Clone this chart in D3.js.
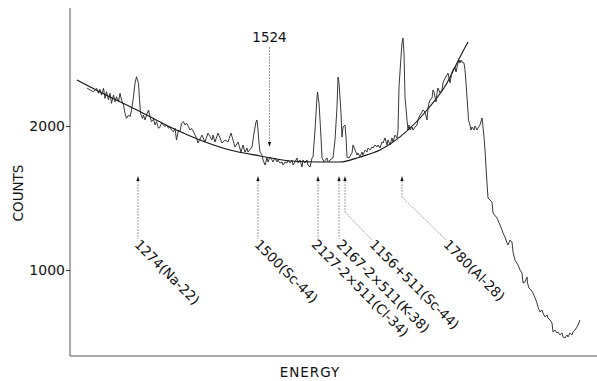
<!DOCTYPE html>
<html><head><meta charset="utf-8">
<script src="https://cdn.jsdelivr.net/npm/d3@7"></script>
<style>body{margin:0;background:#fff}svg{display:block}text{font-family:"DejaVu Sans",sans-serif;fill:#111}</style>
</head><body>
<script>
// spectrum: channel numbers and counts
const spectrumChannel = [34,40,47,53,57,60,63,67,70,73,77,80,83,87,90,93,97,100,103,107,110,113,117,120,123,127,130,133,137,139,141,145,147,150,153,157,160,163,167,170,173,177,180,183,187,190,193,197,200,203,207,210,213,217,220,223,227,230,233,237,240,243,247,250,253,256,264,270,276,284,286,290,296,300,304,310,316,322,326,330,336,342,346,350,354,356,364,368,372,374,376,378,380,384,386,390,394,396,400,404,406,410,414,416,420,424,426,430,434,436,440,444,446,450,454,456,460,464,466,470,474,476,480,484,486,490,494,495,498,502,504,508,514,516,520,526,530,534,536,538,542,544,546,550,552,554,558,564,566,570,574,576,580,584,586,590,594,596,600,604,606,610,614,616,620,624,626,630,634,636,640,644,646,650,654,656,658,662,664,666,668,670,674,676,678,680,684,686,690,694,696,700,704,706,710,714,716,718,720,724,726,728,732,734,736,740,744,746,750,754,756,760,762,764,768,770,772,776,778,780,782,784,788,790,792,794,796,797,800,802,804,808,810,814,816,820,824,826,828,830,832,834,836,844,846,854,860,864,866,870,874,876,880,884,886,890,896,900,904,906,910,914,915,918,922,926,930,934,936,940,944,946,950,954,956,960,964,966,970,974,976,980,984,986,990,994,996,1000,1004,1006,1010,1014,1016,1020];
const spectrumCounts = [2264,2250,2238,2262,2227,2255,2215,2262,2192,2238,2181,2227,2158,2215,2169,2203,2169,2227,2181,2146,2088,2053,2076,2065,2111,2203,2297,2342,2297,2181,2088,2053,2076,2042,2076,2111,2065,2030,2047,2007,2030,1984,1995,2019,2007,1995,2007,1984,1995,1972,1960,1984,1903,1972,1960,2019,2030,2007,2019,1995,1972,1984,1960,1937,1915,1882,1937,1889,1951,1903,1937,1889,1951,1917,1882,1903,1889,1951,1903,1854,1889,1819,1868,1819,1847,1819,1854,1951,2028,2042,1972,1882,1819,1799,1764,1729,1778,1750,1785,1764,1750,1778,1750,1764,1743,1750,1729,1750,1743,1764,1743,1764,1729,1750,1778,1743,1764,1715,1764,1743,1764,1729,1715,1778,1785,1972,2201,2236,2160,1924,1778,1750,1778,1750,1764,1778,1903,2132,2340,2299,2090,1924,1993,2007,1924,1785,1778,1813,1868,1833,1799,1813,1785,1819,1799,1833,1819,1847,1833,1854,1847,1868,1854,1868,1847,1889,1882,1917,1868,1903,1868,1917,1889,1937,1917,1972,2271,2479,2576,2611,2507,2201,2042,1972,2007,1972,1993,1972,1993,2007,2042,2076,2097,2111,2097,2042,2125,2160,2181,2194,2250,2236,2167,2229,2264,2229,2250,2299,2333,2354,2368,2299,2340,2375,2403,2410,2375,2437,2458,2437,2458,2444,2437,2389,2299,2201,2097,2042,2007,1972,1993,1972,2000,1972,1986,2007,2056,1993,1924,1833,1715,1604,1500,1472,1396,1361,1312,1278,1257,1229,1188,1174,1208,1194,1125,1069,1035,1000,979,910,917,951,910,875,861,840,806,771,743,708,722,701,674,688,667,653,632,569,583,563,569,549,563,535,528,549,535,563,549,569,583,604,618,653];
// smooth background fit
const fitChannel = [14,60,134,200,260,320,380,440,500,540,580,620,660,714,754,780,796];
const fitCounts = [2319,2236,2111,1993,1903,1833,1792,1757,1750,1750,1785,1833,1924,2111,2299,2479,2583];
// identified peaks
const peakChannel = [136,376,496,538,550,664];
const peakLabels = ["1274(Na-22)","1500(Sc-44)","2127-2×511(Cl-34)","2167-2×511(K-38)","1156+511(Sc-44)","1780(Al-28)"];
const markChannel = [399];
const markLabels = ["1524"];
const yTicks = [1000, 2000];
const xTitle = "ENERGY", yTitle = "COUNTS";

const W = 597, H = 381;
const svg = d3.select("body").append("svg").attr("width", W).attr("height", H);
const x = d3.scaleLinear().domain([0, 1054]).range([70, 597]);
const y = d3.scaleLinear().domain([1000, 2000]).range([270, 126]);
const plotTop = 8, plotBottom = 356;

// axes
svg.append("line").attr("x1",70).attr("x2",70).attr("y1",plotTop).attr("y2",plotBottom)
  .attr("stroke","#555").attr("stroke-width",1);
svg.append("line").attr("x1",70).attr("x2",597).attr("y1",plotBottom).attr("y2",plotBottom)
  .attr("stroke","#555").attr("stroke-width",1);
const yAxis = d3.axisLeft(y).tickValues(yTicks).tickSize(4).tickPadding(1).tickFormat(d3.format("d"));
const ya = svg.append("g").attr("transform","translate(70,0)").call(yAxis);
ya.select(".domain").remove();
ya.selectAll("line").attr("stroke","#333");
ya.selectAll("text").style("font-family","DejaVu Sans").style("font-size","14px").attr("fill","#111");

svg.append("text").attr("transform","translate(23,193) rotate(-90)").attr("text-anchor","middle")
  .style("font-size","13.5px").text(yTitle);
svg.append("text").attr("x",310).attr("y",377).attr("text-anchor","middle")
  .style("font-size","13.5px").style("letter-spacing","1px").text(xTitle);

// fit
const fitData = fitChannel.map((c,i)=>[c, fitCounts[i]]);
svg.append("path").datum(fitData)
  .attr("d", d3.line().x(d=>x(d[0])).y(d=>y(d[1])).curve(d3.curveMonotoneX))
  .attr("fill","none").attr("stroke","#111").attr("stroke-width",1.1);
// spectrum
const spec = spectrumChannel.map((c,i)=>[c, spectrumCounts[i]]);
svg.append("path").datum(spec)
  .attr("d", d3.line().x(d=>x(d[0])).y(d=>y(d[1])))
  .attr("fill","none").attr("stroke","#222").attr("stroke-width",0.9).attr("stroke-linejoin","round");

// peak markers (layout of leader lines)
const arrowTip = 176, labelY = 244;
const leaderBend = [null,null,null,null,212,197];
const labelShift = [1,1,-2,2,29,46];
peakChannel.forEach((c,i)=>{
  const px = x(c);
  svg.append("path").attr("d",`M${px},${arrowTip} L${px-1.6},${arrowTip+5} L${px+1.6},${arrowTip+5} Z`).attr("fill","#111");
  const lx = px + labelShift[i];
  let d;
  if (leaderBend[i]) d = `M${px},${arrowTip+5} L${px},${leaderBend[i]} L${lx-2},${labelY-4}`;
  else d = `M${px},${arrowTip+5} L${px},${labelY-5}`;
  svg.append("path").attr("d",d).attr("fill","none").attr("stroke","#888").attr("stroke-width",0.8).attr("stroke-dasharray","2,1");
  svg.append("text").attr("transform",`translate(${lx-2},${labelY-2}) rotate(45)`)
    .attr("dy","0.35em").style("font-size","13.5px").text(peakLabels[i]);
});
markChannel.forEach((c,i)=>{
  const px = x(c);
  svg.append("text").attr("x",px).attr("y",42).attr("text-anchor","middle").style("font-size","13.5px").text(markLabels[i]);
  svg.append("line").attr("x1",px).attr("x2",px).attr("y1",47).attr("y2",142)
    .attr("stroke","#888").attr("stroke-width",0.8).attr("stroke-dasharray","2,1");
  svg.append("path").attr("d",`M${px},${147} L${px-1.6},${142} L${px+1.6},${142} Z`).attr("fill","#111");
});
</script>
</body></html>
